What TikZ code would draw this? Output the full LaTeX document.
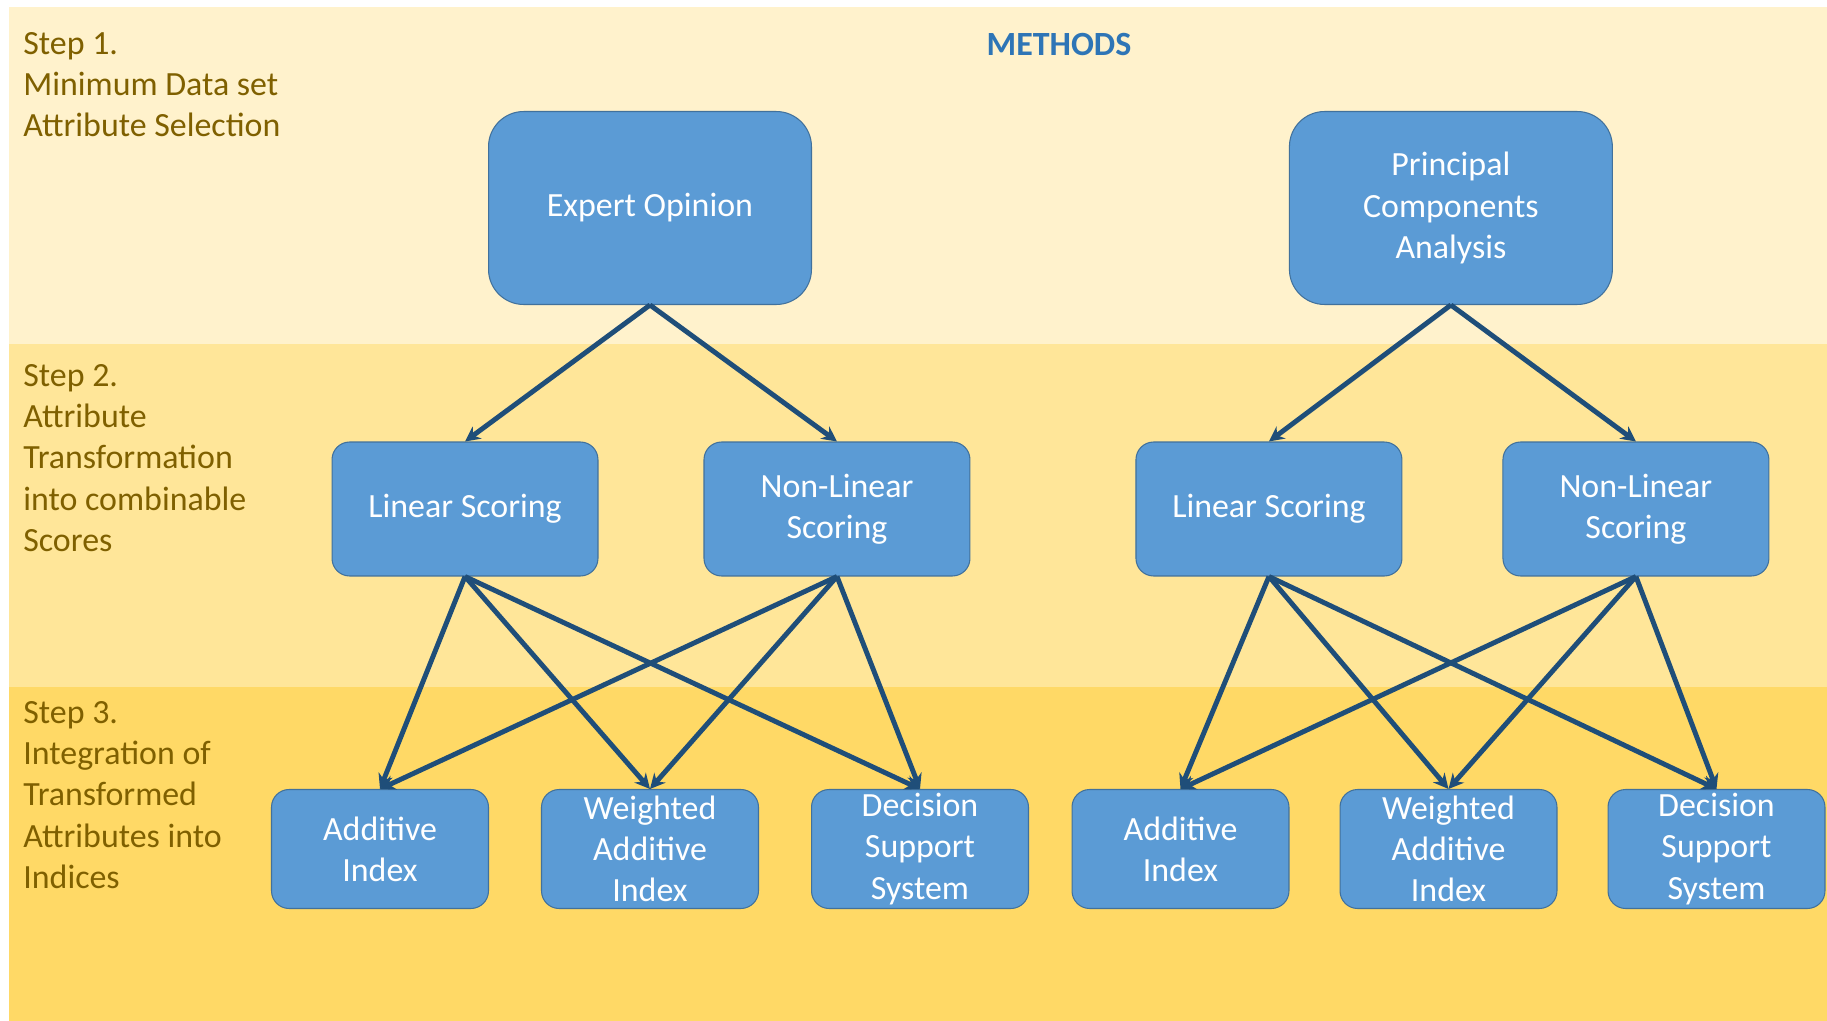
\documentclass[tikz,border=0pt]{standalone}
\usepackage{fontspec}
\setmainfont{Carlito}
\usepackage{xcolor}
\usepackage{tikz}
\usetikzlibrary{positioning,arrows.meta}
\definecolor{cBandA}{HTML}{FFF2CC}
\definecolor{cBandB}{HTML}{FFE699}
\definecolor{cBandC}{HTML}{FFD966}
\definecolor{cBox}{HTML}{5B9BD5}
\definecolor{cEdge}{HTML}{41719C}
\definecolor{cArr}{HTML}{1F4E79}
\definecolor{cStep}{HTML}{7F6000}
\definecolor{cHead}{HTML}{2E75B6}

\begin{document}
\begin{tikzpicture}[x=0.02cm,y=-0.02cm,font=\fontsize{19.3}{23.5}\selectfont]
\tikzset{
  b/.style={draw=cEdge,fill=cBox,text=white,align=center,inner sep=1pt,line width=0.6pt},
  bigb/.style={b,rounded corners=20pt,minimum width=6.46cm,minimum height=3.86cm},
  midb/.style={b,rounded corners=10pt,minimum width=5.32cm,minimum height=2.68cm},
  smlb/.style={b,rounded corners=10pt,minimum width=4.34cm,minimum height=2.38cm},
  ar/.style={-{Stealth[length=3mm,width=3mm]},line width=2.8pt,draw=cArr},
  lbl/.style={anchor=north west,align=left,text=cStep,inner sep=0pt}
}
\useasboundingbox (0,0) rectangle (1827,1021);
\fill[white] (0,0) rectangle (1827,1021);
% bands
\fill[cBandA] (9,7) rectangle (1827,344);
\fill[cBandB] (9,344) rectangle (1827,687);
\fill[cBandC] (9,687) rectangle (1827,1021);

% step texts
\node[lbl] (s1) at (23,32) {Step 1.\\Minimum Data set\\Attribute Selection};
\node[lbl] (s2) at (23,364) {Step 2.\\Attribute\\Transformation\\into combinable\\Scores};
\node[lbl] (s3) at (23,701) {Step 3.\\Integration of\\Transformed\\Attributes into\\Indices};
\node[font=\fontsize{19.3}{23.5}\selectfont\bfseries,text=cHead] (meth) at (1059,44) {METHODS};

% step 1
\node[bigb] (eo) at (650,208) {Expert Opinion};
\node[bigb,right=9.54cm of eo] (pca) {Principal\\Components\\Analysis};

% step 2
\node[midb] (ls1) at (465,509) {Linear Scoring};
\node[midb,right=2.1cm of ls1] (nl1) {Non-Linear\\Scoring};
\node[midb,right=3.3cm of nl1] (ls2) {Linear Scoring};
\node[midb,right=2.0cm of ls2] (nl2) {Non-Linear\\Scoring};

% step 3
\node[smlb] (ai1) at (380,849) {Additive\\Index};
\node[smlb,right=1.04cm of ai1] (wa1) {Weighted\\Additive\\Index};
\node[smlb,right=1.04cm of wa1] (ds1) {Decision\\Support\\System};
\node[smlb,right=0.85cm of ds1] (ai2) {Additive\\Index};
\node[smlb,right=1.0cm of ai2] (wa2) {Weighted\\Additive\\Index};
\node[smlb,right=1.0cm of wa2] (ds2) {Decision\\Support\\System};

% arrows
\draw[ar] (eo.south)--(ls1.north); \draw[ar] (eo.south)--(nl1.north);
\draw[ar] (pca.south)--(ls2.north); \draw[ar] (pca.south)--(nl2.north);
\draw[ar] (ls1.south)--(ai1.north); \draw[ar] (ls1.south)--(wa1.north); \draw[ar] (ls1.south)--(ds1.north);
\draw[ar] (nl1.south)--(ai1.north); \draw[ar] (nl1.south)--(wa1.north); \draw[ar] (nl1.south)--(ds1.north);
\draw[ar] (ls2.south)--(ai2.north); \draw[ar] (ls2.south)--(wa2.north); \draw[ar] (ls2.south)--(ds2.north);
\draw[ar] (nl2.south)--(ai2.north); \draw[ar] (nl2.south)--(wa2.north); \draw[ar] (nl2.south)--(ds2.north);
\end{tikzpicture}
\end{document}
